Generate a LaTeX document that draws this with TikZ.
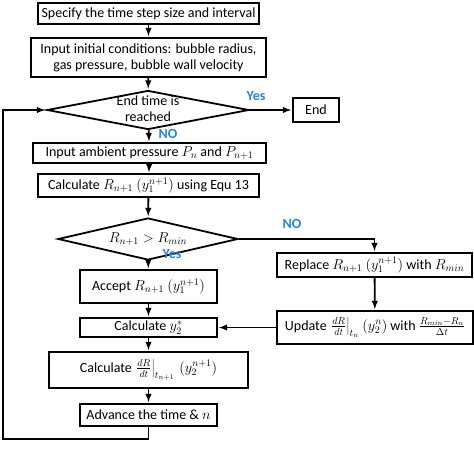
\documentclass[tikz,border=0pt]{standalone}
\usepackage{fontspec}
\setmainfont{Carlito}
\usetikzlibrary{shapes.geometric}
\definecolor{answerblue}{RGB}{38,132,226}
% text that does not enlarge the diamond it sits in
\newcommand{\flattext}[1]{\raisebox{-3.5pt}[0pt][0pt]{\makebox[0pt]{\begin{tabular}{@{}c@{}}#1\end{tabular}}}}

\begin{document}
\begin{tikzpicture}[->,>=latex,shorten >=1pt,x=1pt,y=-1pt,line width=1.8pt,
  every node/.style={font=\fontsize{14}{16}\selectfont},
  box/.style={rectangle, draw, fill=white, inner sep=0pt, align=center},
  decision/.style={diamond, draw, fill=white, inner sep=0pt},
  answer/.style={text=answerblue, font=\fontsize{14}{16}\selectfont\bfseries}]

\useasboundingbox (0,0) rectangle (474,460);

\node[box, minimum width=221pt, minimum height=21pt] (spec) at (148.5,13.5) {Specify the time step size and interval};
\node[box, minimum width=235pt, minimum height=39pt] (init) at (148.5,57.5) {Input initial conditions: bubble radius,\\gas pressure, bubble wall velocity};
\node[decision, minimum width=202pt, minimum height=39pt] (endq) at (148,110) {\flattext{End time is\\reached}};
\node[box, minimum width=46pt, minimum height=24pt] (stop) at (316,110) {End};
\node[box, minimum width=233pt, minimum height=20pt] (press) at (149.5,153) {Input ambient pressure $P_n$ and $P_{n+1}$};
\node[box, minimum width=221pt, minimum height=23pt] (radius) at (148.5,185.5) {Calculate $R_{n+1}$ $(y_1^{n+1})$ using Equ 13};
\node[decision, minimum width=180pt, minimum height=42pt] (rcheck) at (148,239) {\flattext{$R_{n+1} > R_{min}$}};
\node[box, minimum width=137pt, minimum height=33pt] (accept) at (148.5,286.5) {Accept $R_{n+1}$ $(y_1^{n+1})$};
\node[box, minimum width=137pt, minimum height=19pt] (ystar) at (148.5,327.5) {Calculate $y_2^*$};
\node[box, minimum width=199pt, minimum height=36pt] (deriv) at (148.5,370) {Calculate $\left.\frac{dR}{dt}\right|_{t_{n+1}}\,(y_2^{n+1})$};
\node[box, minimum width=137pt, minimum height=22pt] (adv) at (148.5,415) {Advance the time \& $n$};
\node[box, minimum width=195pt, minimum height=24pt] (replace) at (374.5,265) {Replace $R_{n+1}$ $(y_1^{n+1})$ with $R_{min}$};
\node[box, minimum width=196pt, minimum height=33pt] (update) at (375,327.5) {Update $\left.\frac{dR}{dt}\right|_{t_n}$ $(y_2^n)$ with $\frac{R_{min}-R_n}{\Delta t}$};

\node[answer] (yes1) at (256,96) {Yes};
\node[answer] (no1) at (168,134) {NO};
\node[answer] (no2) at (292,224) {NO};
\node[answer] (yes2) at (172,254) {Yes};

\coordinate (loopcorner) at (3,439);

\path (spec) edge (init)
      (init) edge (endq)
      (endq) edge (stop)
             edge (press)
      (press) edge (radius)
      (radius) edge (rcheck)
      (rcheck) edge (accept)
      (accept) edge (ystar)
      (ystar) edge (deriv)
      (deriv) edge (adv)
      (replace) edge (update)
      (update) edge (ystar);

\draw (rcheck.east) -| (replace.north);
\draw (adv.south) |- (loopcorner) |- (endq.west);

\end{tikzpicture}
\end{document}
